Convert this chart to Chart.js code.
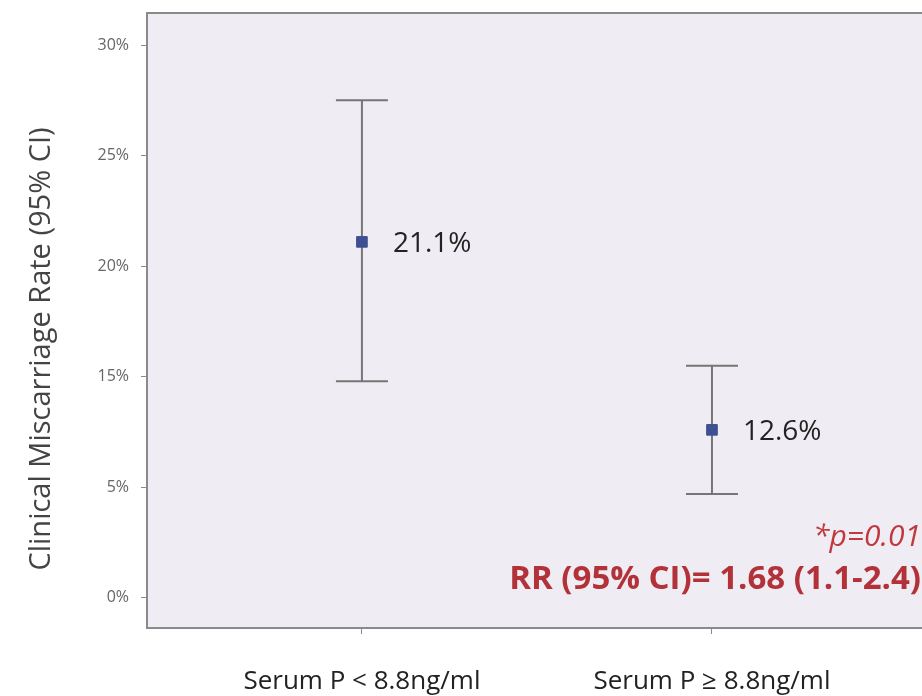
<!DOCTYPE html>
<html>
<head>
<meta charset="utf-8">
<script src="https://cdn.jsdelivr.net/npm/chart.js@4"></script>
<style>
  html, body { margin: 0; padding: 0; background: #fff; overflow: hidden; }
  #wrap { width: 922px; height: 696px; }
</style>
</head>
<body>
<div id="wrap"><canvas id="myChart" width="922" height="696"></canvas></div>
<script>
const categories = ['Serum P < 8.8ng/ml', 'Serum P \u2265 8.8ng/ml'];
const rates = [21.1, 12.6];
const ciLow = [14.8, 9.7];
const ciHigh = [27.5, 15.5];
const rateLabels = ['21.1%', '12.6%'];
// the source axis puts "5%" where 10 sits and "0%" where 5 sits
const yTickValues = [5, 10, 15, 20, 25, 30];
const yTickLabels = ['0%', '5%', '15%', '20%', '25%', '30%'];
const yTitle = 'Clinical Miscarriage Rate (95% CI)';
const pText = '*p=0.01';
const rrText = 'RR (95% CI)= 1.68 (1.1-2.4)';

const FONT = '"Open Sans", Lato, sans-serif';
const ctx = document.getElementById('myChart').getContext('2d');

const points = categories.map((c, i) => ({ x: i, y: rates[i] }));

const framePlugin = {
    id: 'frame',
    beforeDraw(chart) {
        const { ctx, chartArea: a } = chart;
        ctx.save();
        ctx.fillStyle = '#efedf3';
        ctx.fillRect(a.left, a.top, a.right - a.left, a.bottom - a.top);
        ctx.strokeStyle = '#8a8a8a';
        ctx.lineWidth = 2;
        ctx.beginPath();
        ctx.moveTo(a.left, a.top);
        ctx.lineTo(chart.width, a.top);
        ctx.stroke();
        // axis title, drawn by hand so it can sit a bit below centre like the source
        ctx.fillStyle = '#444';
        ctx.font = '29px ' + FONT;
        ctx.textAlign = 'center';
        ctx.textBaseline = 'middle';
        ctx.translate(42, 349);
        ctx.rotate(-Math.PI / 2);
        ctx.fillText(yTitle, 0, 0);
        ctx.restore();
    }
};

const errorBarPlugin = {
    id: 'errorBars',
    beforeDatasetsDraw(chart) {
        const { ctx, scales } = chart;
        ctx.save();
        ctx.strokeStyle = '#767676';
        ctx.lineWidth = 2;
        categories.forEach((c, i) => {
            const x = scales.x.getPixelForValue(i);
            const yl = scales.y.getPixelForValue(ciLow[i]);
            const yh = scales.y.getPixelForValue(ciHigh[i]);
            ctx.beginPath();
            ctx.moveTo(x, yl);
            ctx.lineTo(x, yh);
            ctx.moveTo(x - 26, yh);
            ctx.lineTo(x + 26, yh);
            ctx.moveTo(x - 26, yl);
            ctx.lineTo(x + 26, yl);
            ctx.stroke();
        });
        ctx.restore();
    },
    afterDatasetsDraw(chart) {
        const { ctx, scales } = chart;
        const right = chart.width - 1;
        ctx.save();
        ctx.fillStyle = '#222';
        ctx.font = '28px ' + FONT;
        ctx.textBaseline = 'middle';
        ctx.textAlign = 'left';
        categories.forEach((c, i) => {
            const x = scales.x.getPixelForValue(i);
            const y = scales.y.getPixelForValue(rates[i]);
            ctx.fillText(rateLabels[i], x + 31, y + 2);
        });
        ctx.textAlign = 'right';
        ctx.fillStyle = '#c0393f';
        ctx.font = 'italic 30px ' + FONT;
        ctx.fillText(pText, right, 537);
        ctx.fillStyle = '#b3323a';
        ctx.font = 'bold 33px ' + FONT;
        ctx.fillText(rrText, right, 580);
        ctx.restore();
    }
};

function noPad(s) {
    s.paddingTop = 0;
    s.paddingBottom = 0;
    s.paddingLeft = 0;
    s.paddingRight = 0;
}

new Chart(ctx, {
    type: 'scatter',
    data: {
        datasets: [{
            label: 'Rate',
            data: points,
            pointStyle: 'rect',
            pointRadius: 7.5,
            pointHoverRadius: 7.5,
            backgroundColor: '#3e4f92',
            borderColor: '#3e4f92',
            showLine: false
        }]
    },
    options: {
        responsive: false,
        animation: false,
        layout: { autoPadding: false, padding: { top: 13, right: 0, left: 0, bottom: 0 } },
        plugins: {
            legend: { display: false },
            tooltip: { enabled: false }
        },
        scales: {
            x: {
                type: 'linear',
                min: -0.614,
                max: 1.6,
                afterBuildTicks: s => { s.ticks = [{ value: 0 }, { value: 1 }]; },
                afterFit: s => { s.height = 68; noPad(s); },
                grid: { drawOnChartArea: false, drawTicks: true, tickLength: 6, color: '#8a8a8a' },
                border: { color: '#8a8a8a', width: 2 },
                ticks: {
                    padding: 32,
                    color: '#222',
                    font: { family: FONT, size: 26 },
                    callback: v => categories[v]
                }
            },
            y: {
                min: 3.64,
                max: 31.45,
                afterBuildTicks: s => { s.ticks = yTickValues.map(v => ({ value: v })); },
                afterFit: s => { s.width = 147; noPad(s); },
                grid: { drawOnChartArea: false, drawTicks: true, tickLength: 6, color: '#8a8a8a' },
                border: { color: '#8a8a8a', width: 2 },
                ticks: {
                    padding: 12,
                    color: '#666',
                    font: { family: FONT, size: 16 },
                    callback: v => yTickLabels[yTickValues.indexOf(v)]
                }
            }
        }
    },
    plugins: [framePlugin, errorBarPlugin]
});
</script>
</body>
</html>
